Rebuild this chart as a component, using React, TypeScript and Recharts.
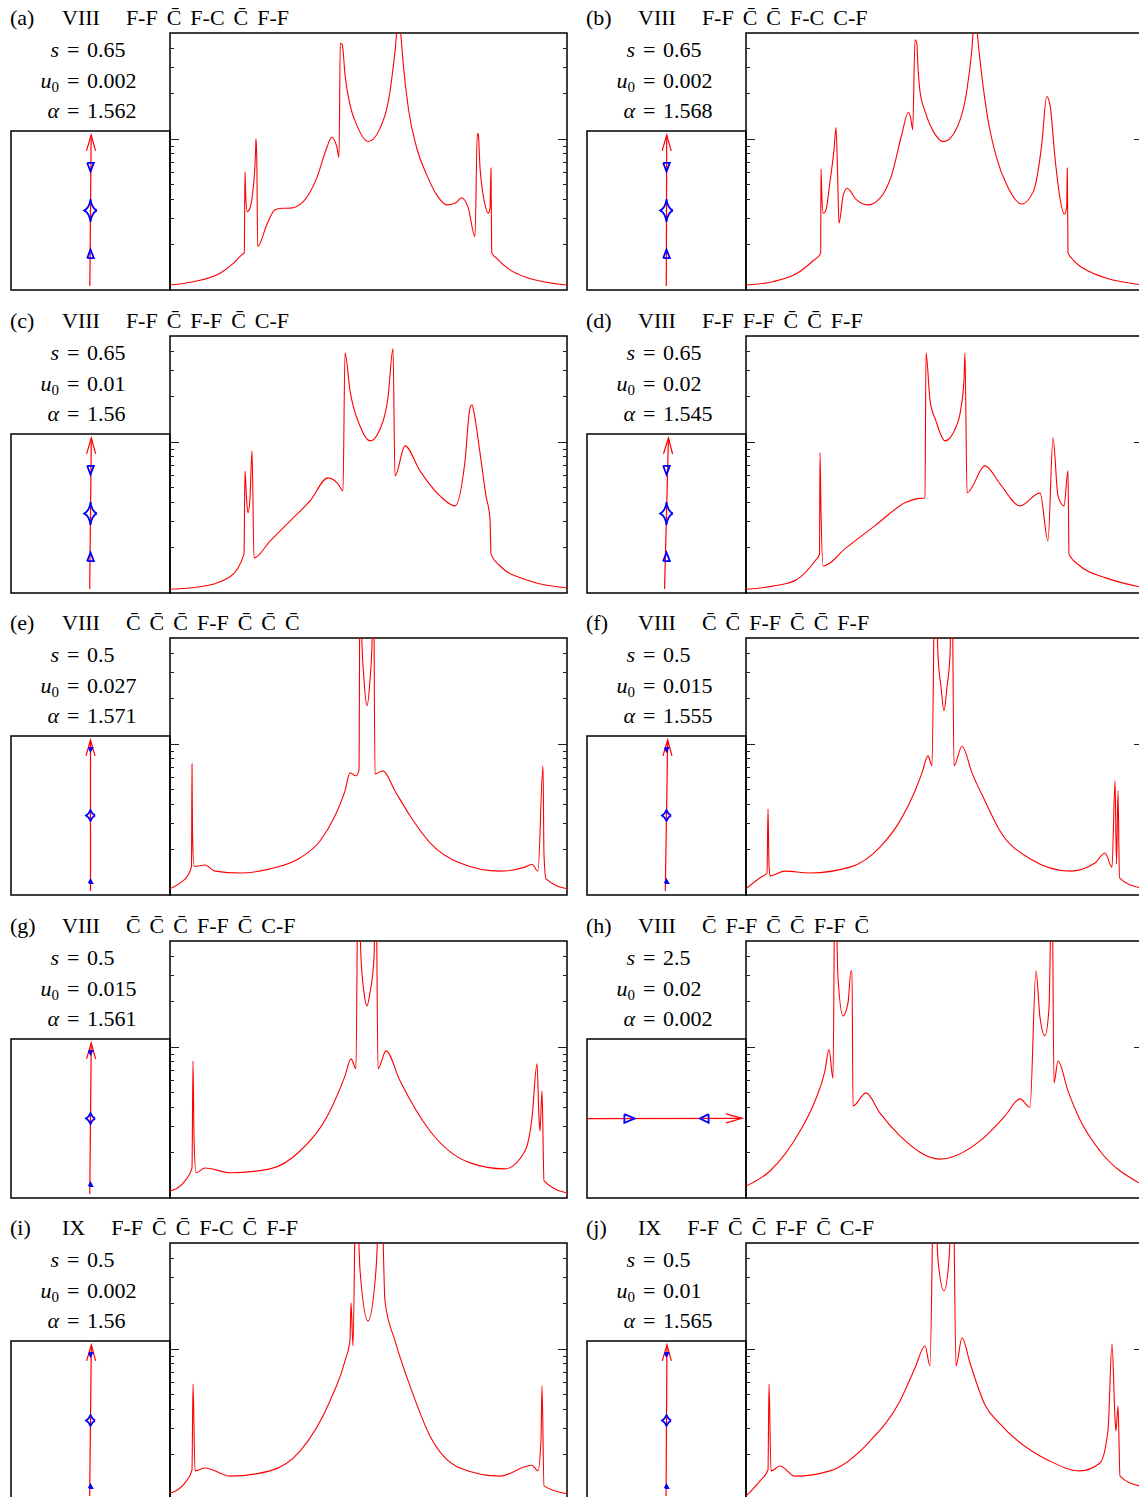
import React from "react";
import { LineChart, Line, XAxis, YAxis, ReferenceArea } from "recharts";

type Pt = [number, number];

const SERIF = "'Liberation Serif', 'Times New Roman', serif";
const RED = "#ff0000";
const BLUE = "#0000ff";

// time (arbitrary units) and magnification ranges of the light-curve panels
const T_DOMAIN: [number, number] = [0, 3.97];
const A_DOMAIN: [number, number] = [1, 50.6];
const A_TICKS = [2, 3, 4, 5, 6, 7, 8, 9, 10, 20, 30, 40];
const A_MAJOR = 10;

const panelLabels = ["(a)", "(b)", "(c)", "(d)", "(e)", "(f)", "(g)", "(h)", "(i)", "(j)"];
const topologies = ["VIII", "VIII", "VIII", "VIII", "VIII", "VIII", "VIII", "VIII", "IX", "IX"];
const crossings = [
  "F-F C\u0304 F-C C\u0304 F-F",
  "F-F C\u0304 C\u0304 F-C C-F",
  "F-F C\u0304 F-F C\u0304 C-F",
  "F-F F-F C\u0304 C\u0304 F-F",
  "C\u0304 C\u0304 C\u0304 F-F C\u0304 C\u0304 C\u0304",
  "C\u0304 C\u0304 F-F C\u0304 C\u0304 F-F",
  "C\u0304 C\u0304 C\u0304 F-F C\u0304 C-F",
  "C\u0304 F-F C\u0304 C\u0304 F-F C\u0304",
  "F-F C\u0304 C\u0304 F-C C\u0304 F-F",
  "F-F C\u0304 C\u0304 F-F C\u0304 C-F",
];
const sVals = ["0.65", "0.65", "0.65", "0.65", "0.5", "0.5", "0.5", "2.5", "0.5", "0.5"];
const u0Vals = ["0.002", "0.002", "0.01", "0.02", "0.027", "0.015", "0.015", "0.02", "0.002", "0.01"];
const alphaVals = ["1.562", "1.568", "1.56", "1.545", "1.571", "1.555", "1.561", "0.002", "1.56", "1.565"];
const geometry = ["close", "close", "close", "close", "s05", "s05", "s05", "wide", "s05", "s05"];

// caustic outlines in the source plane (inset units)
const centralClose: Pt[] = [
  [0.08, 0], [0.052, 0.018], [0.028, 0.05], [0.01, 0.093], [0, 0.143],
  [-0.01, 0.093], [-0.028, 0.05], [-0.052, 0.018], [-0.08, 0],
  [-0.052, -0.018], [-0.028, -0.05], [-0.01, -0.093], [0, -0.143],
  [0.01, -0.093], [0.028, -0.05], [0.052, -0.018], [0.08, 0],
];
const upperClose: Pt[] = [[-0.042, 0.6], [0.042, 0.6], [0, 0.49], [-0.042, 0.6]];
const lowerClose: Pt[] = [[-0.042, -0.6], [0.042, -0.6], [0, -0.49], [-0.042, -0.6]];
const central05: Pt[] = [
  [0.057, 0], [0.024, 0.026], [0, 0.069], [-0.024, 0.026], [-0.057, 0],
  [-0.024, -0.026], [0, -0.069], [0.024, -0.026], [0.057, 0],
];
const upper05: Pt[] = [[-0.022, 0.85], [0.022, 0.85], [0, 0.81], [-0.022, 0.85]];
const lower05: Pt[] = [[-0.022, -0.85], [0.022, -0.85], [0, -0.81], [-0.022, -0.85]];
const leftWide: Pt[] = [[-0.53, 0.055], [-0.4, 0], [-0.53, -0.055], [-0.53, 0.055]];
const rightWide: Pt[] = [[0.53, 0.055], [0.42, 0], [0.53, -0.055], [0.53, 0.055]];

const caustics: Record<string, Pt[][]> = {
  close: [centralClose, upperClose, lowerClose],
  s05: [central05, upper05, lower05],
  wide: [leftWide, rightWide],
};

// light curves: [time, magnification]
const curveA: Pt[] = [
  [0, 1.08], [0.233, 1.135], [0.5, 1.29], [0.633, 1.5], [0.717, 1.71], [0.743, 1.77], [0.75, 6.1],
  [0.757, 4.3], [0.773, 3.31], [0.8, 3.5], [0.83, 4.6], [0.85, 6.8], [0.858, 9.2], [0.86, 10.05],
  [0.868, 7.3], [0.877, 1.94], [0.967, 2.7], [1.05, 3.4], [1.12, 3.48], [1.2, 3.49], [1.333, 3.86],
  [1.467, 5.52], [1.567, 8.74], [1.617, 10.3], [1.667, 8.95], [1.69, 7.56], [1.703, 43.4],
  [1.723, 42.3], [1.75, 26.8], [1.8, 16.9], [1.867, 12.45], [1.983, 9.65], [2.1, 11.8], [2.2, 20.7],
  [2.25, 38.2], [2.29, 68], [2.307, 50.6], [2.333, 31.2], [2.383, 16.1], [2.467, 8.74], [2.567, 5.8],
  [2.667, 4.27], [2.767, 3.67], [2.85, 3.76], [2.917, 4.09], [2.983, 3.49], [3.05, 2.26],
  [3.073, 10.96], [3.083, 10.7], [3.1, 6.5], [3.117, 4.98], [3.14, 3.96], [3.183, 3.23], [3.2, 3.49],
  [3.21, 6.43], [3.217, 1.77], [3.267, 1.62], [3.4, 1.36], [3.567, 1.21], [3.733, 1.135], [3.97, 1.08],
];
const curveB: Pt[] = [
  [0, 1.08], [0.27, 1.135], [0.51, 1.29], [0.66, 1.54], [0.747, 1.75], [0.75, 6.36], [0.758, 4.27],
  [0.773, 3.23], [0.8, 3.4], [0.84, 5.24], [0.88, 8.5], [0.9, 11.95], [0.915, 6.26], [0.93, 2.77],
  [0.973, 4.27], [1.013, 4.73], [1.05, 4.47], [1.09, 4.06], [1.15, 3.78], [1.223, 3.67], [1.34, 4.06],
  [1.457, 5.8], [1.557, 10.7], [1.623, 15.1], [1.647, 13.8], [1.667, 11.54], [1.69, 45.6], [1.707, 44],
  [1.72, 30], [1.74, 20.7], [1.79, 15.3], [1.873, 11.27], [1.98, 9.63], [2.107, 11.8], [2.207, 20.7],
  [2.257, 38.2], [2.293, 75], [2.313, 50.6], [2.357, 26.7], [2.423, 13.1], [2.507, 7.5], [2.607, 4.98],
  [2.757, 3.72], [2.873, 4.49], [2.957, 9.17], [3.007, 19.2], [3.04, 16.9], [3.09, 7.5], [3.14, 4.06],
  [3.183, 3.18], [3.207, 3.57], [3.213, 6.43], [3.22, 1.77], [3.273, 1.58], [3.44, 1.32], [3.607, 1.195],
  [3.97, 1.08],
];
const curveC: Pt[] = [
  [0, 1.06], [0.3, 1.1], [0.6, 1.28], [0.74, 1.81], [0.75, 6.45], [0.765, 4.27], [0.78, 3.4], [0.8, 4.27],
  [0.82, 8.77], [0.84, 1.71], [1.0, 2.21], [1.2, 3.0], [1.4, 4.08], [1.58, 5.8], [1.68, 5.3], [1.73, 4.76],
  [1.75, 39.2], [1.8, 22], [1.9, 12.8], [2.0, 10.2], [2.1, 12.2], [2.18, 19.7], [2.23, 41.7], [2.25, 5.98],
  [2.35, 9.46], [2.5, 6.45], [2.7, 4.4], [2.85, 3.78], [2.95, 7.5], [3.0, 16.9], [3.02, 17.7],
  [3.04, 15.7], [3.1, 8.5], [3.16, 4.4], [3.2, 3.1], [3.21, 1.81], [3.3, 1.51], [3.6, 1.2], [3.97, 1.08],
];
const curveD: Pt[] = [
  [0, 1.06], [0.3, 1.12], [0.5, 1.22], [0.69, 1.63], [0.735, 1.8], [0.74, 8.5], [0.75, 3.5], [0.77, 1.51],
  [1.0, 1.99], [1.3, 2.83], [1.59, 3.96], [1.7, 4.21], [1.79, 4.27], [1.8, 39.2], [1.84, 19],
  [1.9, 13.8], [1.99, 10.2], [2.1, 12.6], [2.15, 16.9], [2.18, 26], [2.19, 39.2], [2.21, 4.61],
  [2.39, 6.97], [2.54, 5.3], [2.74, 3.78], [2.94, 4.61], [3.02, 2.22], [3.07, 10.7], [3.12, 4.4],
  [3.18, 3.78], [3.22, 6.45], [3.23, 1.81], [3.34, 1.51], [3.6, 1.26], [3.93, 1.1],
];
const curveE: Pt[] = [
  [0, 1.1], [0.1, 1.2], [0.18, 1.35], [0.215, 1.55], [0.22, 7.4], [0.225, 2.6], [0.24, 1.55],
  [0.35, 1.58], [0.45, 1.44], [0.7, 1.4], [1.0, 1.49], [1.3, 1.76], [1.5, 2.28], [1.65, 3.35],
  [1.75, 4.9], [1.8, 6.45], [1.86, 6.17], [1.89, 6.76], [1.9, 155], [1.92, 45.6], [1.94, 26.7],
  [1.97, 18], [2.0, 26.7], [2.02, 45.6], [2.035, 155], [2.05, 6.36], [2.13, 6.65], [2.25, 4.9],
  [2.4, 3.35], [2.6, 2.22], [2.9, 1.63], [3.3, 1.44], [3.55, 1.53], [3.62, 1.6], [3.68, 1.44],
  [3.73, 7.2], [3.74, 1.84], [3.76, 1.28], [3.97, 1.1],
];
const curveF: Pt[] = [
  [0, 1.1], [0.14, 1.3], [0.21, 1.4], [0.22, 3.72], [0.23, 1.6], [0.24, 1.34], [0.39, 1.44], [0.64, 1.4],
  [1.04, 1.53], [1.34, 2.08], [1.54, 3.1], [1.69, 4.9], [1.76, 6.45], [1.82, 8.37], [1.86, 7.2],
  [1.89, 155], [1.92, 39], [1.95, 24], [1.98, 16.7], [2.01, 24], [2.04, 39], [2.06, 155], [2.08, 7.2],
  [2.16, 9.7], [2.26, 6.45], [2.39, 4.2], [2.54, 2.66], [2.84, 1.74], [3.24, 1.44], [3.49, 1.63],
  [3.59, 1.9], [3.66, 1.53], [3.69, 5.71], [3.705, 1.6], [3.72, 4.9], [3.735, 1.3], [3.93, 1.12],
];
const curveG: Pt[] = [
  [0, 1.11], [0.15, 1.3], [0.22, 1.58], [0.23, 8.1], [0.24, 2.5], [0.26, 1.47], [0.35, 1.58], [0.6, 1.47],
  [1.0, 1.56], [1.3, 2.05], [1.6, 3.78], [1.75, 6.45], [1.81, 8.37], [1.86, 7.2], [1.88, 155],
  [1.91, 39.2], [1.94, 23], [1.97, 18.8], [2.0, 23], [2.04, 39.2], [2.06, 155], [2.08, 7.2], [2.16, 9.45],
  [2.3, 5.98], [2.6, 2.78], [3.0, 1.71], [3.35, 1.56], [3.55, 2.05], [3.62, 3.4], [3.67, 7.75],
  [3.69, 3.4], [3.7, 2.78], [3.72, 5.13], [3.74, 1.3], [3.97, 1.08],
];
const curveH: Pt[] = [
  [0, 1.2], [0.24, 1.51], [0.54, 2.78], [0.69, 4.4], [0.79, 7.0], [0.83, 9.7], [0.87, 6.2], [0.89, 155],
  [0.92, 28.9], [0.97, 16.1], [1.02, 19.7], [1.05, 32], [1.06, 32], [1.07, 4.08], [1.2, 4.98],
  [1.34, 3.65], [1.54, 2.58], [1.94, 1.81], [2.34, 2.39], [2.59, 3.5], [2.74, 4.54], [2.84, 4.0],
  [2.9, 32], [2.94, 15.7], [2.99, 11.9], [3.03, 18.2], [3.06, 155], [3.08, 5.8], [3.12, 8.1],
  [3.22, 5.13], [3.34, 3.3], [3.54, 2.05], [3.93, 1.26],
];
const curveI: Pt[] = [
  [0, 1.11], [0.15, 1.3], [0.22, 1.58], [0.23, 5.9], [0.25, 1.56], [0.35, 1.63], [0.6, 1.44], [1.0, 1.56],
  [1.3, 2.11], [1.6, 4.54], [1.75, 8.37], [1.8, 11.5], [1.81, 20.3], [1.83, 10.5], [1.86, 155],
  [1.9, 33.6], [1.98, 15.4], [2.06, 33.6], [2.11, 155], [2.15, 20.8], [2.25, 11.4], [2.4, 5.71],
  [2.6, 2.66], [2.9, 1.63], [3.3, 1.44], [3.55, 1.66], [3.62, 1.7], [3.68, 1.56], [3.71, 2.5],
  [3.72, 5.71], [3.74, 1.24], [3.97, 1.1],
];
const curveJ: Pt[] = [
  [0, 1.06], [0.14, 1.34], [0.22, 1.58], [0.23, 5.9], [0.25, 1.56], [0.34, 1.68], [0.49, 1.44],
  [0.84, 1.56], [1.24, 2.46], [1.54, 4.54], [1.69, 7.5], [1.79, 10.5], [1.84, 7.75], [1.88, 155],
  [1.92, 39.2], [1.98, 24.4], [2.03, 39.2], [2.07, 155], [2.1, 7.75], [2.16, 11.9], [2.24, 8.1],
  [2.39, 4.27], [2.54, 3.2], [3.04, 1.81], [3.34, 1.56], [3.54, 1.76], [3.62, 2.9], [3.66, 10.85],
  [3.69, 3.5], [3.7, 2.87], [3.72, 4.2], [3.74, 1.44], [3.93, 1.24],
];
const curves = [curveA, curveB, curveC, curveD, curveE, curveF, curveG, curveH, curveI, curveJ];

function TickMark(props: any) {
  const { x, y, payload, dir } = props;
  const len = payload.value === A_MAJOR ? 9 : 4;
  return (
    <line
      x1={x}
      y1={y}
      x2={x + dir * len}
      y2={y}
      stroke="#222"
      strokeWidth={1}
      shapeRendering="crispEdges"
    />
  );
}

function LightCurve({ pts }: { pts: Pt[] }) {
  const data = pts.map(([t, a]) => ({ t, a }));
  return (
    <LineChart width={399} height={259} data={data} margin={{ top: 1, right: 1, bottom: 1, left: 1 }}>
      <XAxis dataKey="t" type="number" domain={T_DOMAIN} allowDataOverflow hide />
      <YAxis
        yAxisId="L"
        type="number"
        scale="log"
        domain={A_DOMAIN}
        allowDataOverflow
        mirror
        ticks={A_TICKS}
        interval={0}
        tickSize={0}
        tickMargin={0}
        tickLine={false}
        axisLine={false}
        tick={(p: any) => <TickMark {...p} dir={1} />}
      />
      <YAxis
        yAxisId="R"
        orientation="right"
        type="number"
        scale="log"
        domain={A_DOMAIN}
        allowDataOverflow
        mirror
        ticks={A_TICKS}
        interval={0}
        tickSize={0}
        tickMargin={0}
        tickLine={false}
        axisLine={false}
        tick={(p: any) => <TickMark {...p} dir={-1} />}
      />
      <ReferenceArea
        yAxisId="L"
        x1={T_DOMAIN[0]}
        x2={T_DOMAIN[1]}
        y1={A_DOMAIN[0]}
        y2={A_DOMAIN[1]}
        ifOverflow="visible"
        fill="none"
        fillOpacity={0}
        stroke="#000"
        strokeOpacity={1}
        strokeWidth={1.5}
      />
      <Line
        yAxisId="L"
        dataKey="a"
        type="monotone"
        stroke={RED}
        strokeWidth={1.1}
        dot={false}
        isAnimationActive={false}
      />
    </LineChart>
  );
}

function Inset({ alpha, shapes }: { alpha: number; shapes: Pt[][] }) {
  const c = Math.cos(alpha);
  const s = Math.sin(alpha);
  const start = Math.abs(c) > 0.9 ? -1 : -0.95;
  const tip = 0.95;
  const path = [
    { x: start * c, y: start * s },
    { x: tip * c, y: tip * s },
  ];
  const bx = (tip - 0.2) * c;
  const by = (tip - 0.2) * s;
  const head = [
    { x: bx - 0.057 * s, y: by + 0.057 * c },
    { x: tip * c, y: tip * s },
    { x: bx + 0.057 * s, y: by - 0.057 * c },
  ];
  return (
    <LineChart width={161} height={161} margin={{ top: 1, right: 1, bottom: 1, left: 1 }}>
      <XAxis dataKey="x" type="number" domain={[-1, 1]} allowDataOverflow hide />
      <YAxis type="number" domain={[-1, 1]} allowDataOverflow hide />
      <ReferenceArea
        x1={-1}
        x2={1}
        y1={-1}
        y2={1}
        ifOverflow="visible"
        fill="none"
        fillOpacity={0}
        stroke="#000"
        strokeOpacity={1}
        strokeWidth={1.5}
      />
      <Line data={path} dataKey="y" stroke={RED} strokeWidth={1.2} dot={false} isAnimationActive={false} />
      <Line data={head} dataKey="y" stroke={RED} strokeWidth={1.2} dot={false} isAnimationActive={false} />
      {shapes.map((sh, k) => (
        <Line
          key={k}
          data={sh.map(([x, y]) => ({ x, y }))}
          dataKey="y"
          stroke={BLUE}
          strokeWidth={1.8}
          dot={false}
          isAnimationActive={false}
        />
      ))}
    </LineChart>
  );
}

const textRow: React.CSSProperties = {
  position: "absolute",
  fontSize: 22,
  lineHeight: "22px",
  whiteSpace: "nowrap",
  color: "#000",
};

function Param({ top, name, value }: { top: number; name: React.ReactNode; value: string }) {
  return (
    <>
      <div style={{ ...textRow, top, left: 0, width: 59, textAlign: "right" }}>{name}</div>
      <div style={{ ...textRow, top, left: 67 }}>=</div>
      <div style={{ ...textRow, top, left: 87 }}>{value}</div>
    </>
  );
}

function Panel({ i }: { i: number }) {
  const ox = (i % 2) * 576;
  const oy = Math.floor(i / 2) * 302.5;
  return (
    <div style={{ position: "absolute", left: ox, top: oy, width: 576, height: 302 }}>
      <div style={{ ...textRow, top: 7, left: 10 }}>{panelLabels[i]}</div>
      <div style={{ ...textRow, top: 7, left: 62 }}>
        {topologies[i]}
        <span style={{ marginLeft: 26, wordSpacing: 3.5 }}>{crossings[i]}</span>
      </div>
      <Param top={39} name={<i>s</i>} value={sVals[i]} />
      <Param
        top={70}
        name={
          <>
            <i>u</i>
            <span style={{ fontSize: 15, position: "relative", top: 4 }}>0</span>
          </>
        }
        value={u0Vals[i]}
      />
      <Param top={100} name={<i>α</i>} value={alphaVals[i]} />
      <div style={{ position: "absolute", left: 10, top: 130 }}>
        <Inset alpha={parseFloat(alphaVals[i])} shapes={caustics[geometry[i]]} />
      </div>
      <div style={{ position: "absolute", left: 169, top: 32 }}>
        <LightCurve pts={curves[i]} />
      </div>
    </div>
  );
}

export default function App() {
  return (
    <div
      style={{
        position: "absolute",
        left: 0,
        top: 0,
        width: 1139,
        height: 1497,
        overflow: "hidden",
        background: "#fff",
        fontFamily: SERIF,
      }}
    >
      {panelLabels.map((_, i) => (
        <Panel key={i} i={i} />
      ))}
    </div>
  );
}
